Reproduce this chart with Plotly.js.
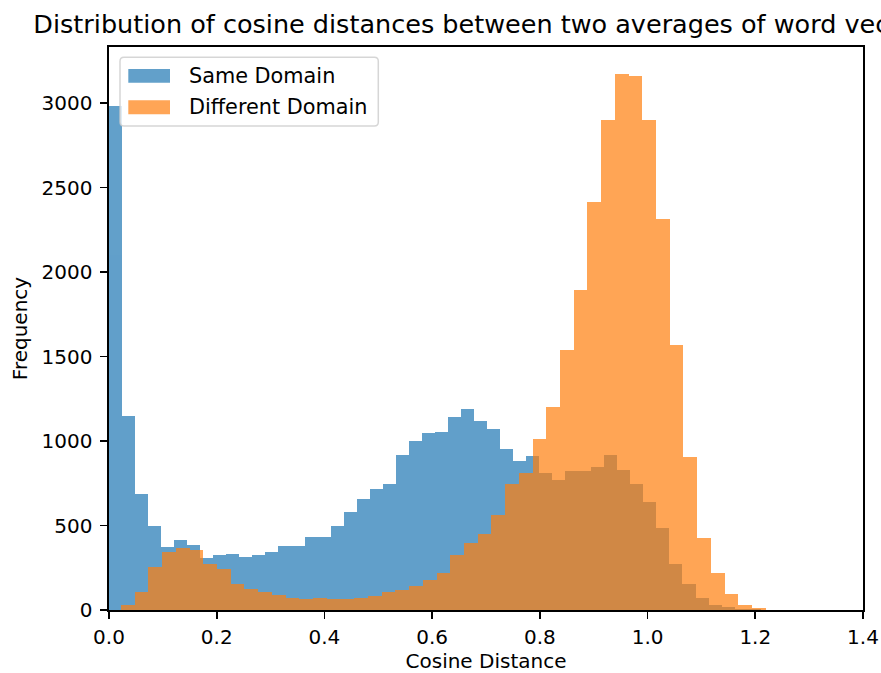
<!DOCTYPE html>
<html>
<head>
<meta charset="utf-8">
<script src="https://cdn.plot.ly/plotly-3.0.1.min.js"></script>
<style>
  html, body { margin: 0; padding: 0; overflow: hidden; background: #fff; }
  #chart { width: 881px; height: 673px; }
</style>
</head>
<body>
<div id="chart"></div>
<script>
// Histogram counts of cosine distances
const sameLabel = "Same Domain";
const diffLabel = "Different Domain";

const sameBinStart = 0.0;
const sameBinWidth = 0.0242;
const sameCounts = [
  2984, 1146, 689, 496, 372, 417, 387, 309, 324, 332,
  316, 324, 344, 377, 381, 433, 433, 495, 578, 659,
  714, 748, 919, 1000, 1047, 1053, 1144, 1187, 1116, 1071,
  954, 884, 909, 811, 767, 820, 822, 848, 919, 829,
  748, 639, 488, 273, 155, 70, 31, 17, 8, 3
];

const diffBinStart = 0.0223;
const diffBinWidth = 0.02547;
const diffCounts = [
  28, 109, 253, 344, 369, 353, 271, 245, 155, 127,
  109, 90, 72, 64, 74, 64, 64, 72, 80, 109,
  117, 145, 180, 218, 326, 397, 452, 561, 748, 810,
  1012, 1199, 1540, 1894, 2412, 2899, 3173, 3161, 2897, 2316,
  1569, 905, 425, 218, 94, 31, 11
];

const xTicks = [0, 0.2, 0.4, 0.6, 0.8, 1.0, 1.2, 1.4];
const yTicks = [0, 500, 1000, 1500, 2000, 2500, 3000];

const titleText = "Distribution of cosine distances between two averages of word vectors";
const xTitle = "Cosine Distance";
const yTitle = "Frequency";

// ---- drawing ----
const W = 881, H = 673;
const M = { l: 109, r: 18, t: 47, b: 62.5 };
const plotW = W - M.l - M.r, plotH = H - M.t - M.b;
const FONT = "DejaVu Sans";
const BLUE = "#1f77b4", ORANGE = "#ff7f0e";

const binEdges = (start, width, n) => Array.from({ length: n }, (_, i) => start + i * width);

const traces = [
  {
    type: "bar", name: sameLabel,
    x: binEdges(sameBinStart, sameBinWidth, sameCounts.length), y: sameCounts,
    width: sameBinWidth, offset: 0,
    marker: { color: BLUE, line: { width: 0 } }, opacity: 0.7,
    hoverinfo: "x+y"
  },
  {
    type: "bar", name: diffLabel,
    x: binEdges(diffBinStart, diffBinWidth, diffCounts.length), y: diffCounts,
    width: diffBinWidth, offset: 0,
    marker: { color: ORANGE, line: { width: 0 } }, opacity: 0.7,
    hoverinfo: "x+y"
  }
];

const yMax = Math.max(...sameCounts, ...diffCounts) * 1.05;

// pixel (relative to figure) -> paper coordinates
const px = x => (x - M.l) / plotW;
const py = y => (H - M.b - y) / plotH;

// rounded legend frame
function roundRect(x0, y0, x1, y1, r) {
  const rx = r / plotW, ry = r / plotH;
  const X0 = px(x0), X1 = px(x1), Y0 = py(y0), Y1 = py(y1); // Y0 top, Y1 bottom
  return `M ${X0 + rx} ${Y0} L ${X1 - rx} ${Y0} Q ${X1} ${Y0} ${X1} ${Y0 - ry} ` +
         `L ${X1} ${Y1 + ry} Q ${X1} ${Y1} ${X1 - rx} ${Y1} ` +
         `L ${X0 + rx} ${Y1} Q ${X0} ${Y1} ${X0} ${Y1 + ry} ` +
         `L ${X0} ${Y0 - ry} Q ${X0} ${Y0} ${X0 + rx} ${Y0} Z`;
}

const legendRows = [
  { label: sameLabel, color: BLUE, cy: 75.8 },
  { label: diffLabel, color: ORANGE, cy: 107.3 }
];

const shapes = [
  {
    type: "path", xref: "paper", yref: "paper", layer: "above",
    path: roundRect(120, 57.3, 378.3, 126, 4),
    fillcolor: "rgba(255,255,255,0.8)",
    line: { color: "rgba(204,204,204,0.8)", width: 1.5 }
  }
];
const annotations = [];
legendRows.forEach(row => {
  shapes.push({
    type: "rect", xref: "paper", yref: "paper", layer: "above",
    x0: px(128.3), x1: px(170), y0: py(row.cy + 6.9), y1: py(row.cy - 6.9),
    fillcolor: row.color, opacity: 0.7, line: { width: 0 }
  });
  annotations.push({
    xref: "paper", yref: "paper", x: px(186.5), y: py(row.cy),
    xanchor: "left", yanchor: "middle", showarrow: false,
    text: row.label, font: { family: FONT, size: 20.8, color: "#000" }
  });
});

const axisCommon = {
  showline: true, linecolor: "#000", linewidth: 1.6, mirror: true,
  ticks: "outside", ticklen: 7, tickwidth: 1.6, tickcolor: "#000",
  showgrid: false, zeroline: false,
  tickfont: { family: FONT, size: 20, color: "#000" }
};

const layout = {
  width: W, height: H,
  margin: M,
  paper_bgcolor: "#fff", plot_bgcolor: "#fff",
  barmode: "overlay", bargap: 0,
  showlegend: false,
  title: {
    text: titleText,
    font: { family: FONT, size: 25.5, color: "#000" },
    xref: "paper", x: 0.5, xanchor: "center",
    yref: "container", y: 1 - 24 / H, yanchor: "middle"
  },
  xaxis: Object.assign({}, axisCommon, {
    range: [0, 1.4], tickvals: xTicks, tickformat: ".1f",
    ticklabelstandoff: 1,
    title: { text: xTitle, font: { family: FONT, size: 20, color: "#000" }, standoff: 10 }
  }),
  yaxis: Object.assign({}, axisCommon, {
    range: [0, yMax], tickvals: yTicks,
    ticklabelstandoff: 4,
    title: { text: yTitle, font: { family: FONT, size: 20, color: "#000" }, standoff: 8 }
  }),
  shapes: shapes,
  annotations: annotations
};

Plotly.newPlot("chart", traces, layout, { displayModeBar: false, staticPlot: true });
</script>
</body>
</html>
